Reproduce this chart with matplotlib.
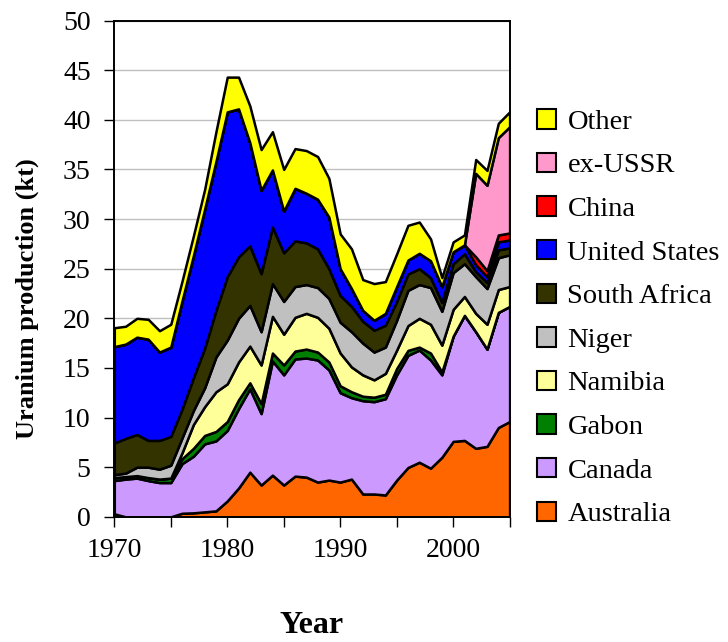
import matplotlib
matplotlib.use("Agg")
import matplotlib.pyplot as plt
from matplotlib.patches import Patch

plt.rcParams['font.family'] = ['Liberation Serif', 'DejaVu Serif']

years = list(range(1970, 2006))

# production per country (kt), 1970..2005
australia = [0.3, 0, 0, 0, 0, 0, 0.36, 0.4, 0.5, 0.6,
             1.6, 2.9, 4.5, 3.2, 4.2, 3.2, 4.1, 4.0, 3.5, 3.7,
             3.5, 3.8, 2.3, 2.3, 2.2, 3.7, 4.97, 5.5, 4.9, 6.0,
             7.6, 7.7, 6.9, 7.1, 9.0, 9.6]
canada = [3.35, 3.8, 3.9, 3.65, 3.45, 3.45, 5.0, 5.7, 6.85, 7.05,
          7.1, 8.0, 8.4, 7.2, 11.5, 11.1, 11.8, 12.0, 12.3, 11.1,
          9.0, 8.2, 9.4, 9.3, 9.7, 10.6, 11.3, 11.3, 10.9, 8.3,
          10.6, 12.6, 11.75, 9.8, 11.6, 11.6]
gabon = [0.3, 0.25, 0.25, 0.3, 0.35, 0.45, 0.5, 0.8, 0.85, 0.95,
         0.9, 0.9, 0.6, 1.0, 0.8, 1.0, 0.8, 0.9, 0.8, 0.8,
         0.7, 0.6, 0.45, 0.45, 0.45, 0.65, 0.5, 0.3, 0.7, 0.3,
         0, 0, 0, 0, 0, 0]
namibia = [0, 0, 0, 0, 0, 0, 0.6, 2.4, 2.9, 4.0,
           3.8, 3.8, 3.7, 3.9, 3.7, 3.1, 3.4, 3.6, 3.5, 3.4,
           3.3, 2.5, 2.15, 1.75, 2.1, 1.85, 2.5, 2.9, 2.9, 2.7,
           2.7, 1.9, 1.85, 2.5, 2.3, 2.0]
niger = [0.3, 0.35, 0.85, 1.05, 1.0, 1.3, 1.5, 1.4, 1.9, 3.5,
         4.4, 4.4, 4.1, 3.35, 3.3, 3.3, 3.1, 2.9, 3.0, 3.0,
         3.1, 3.55, 3.2, 2.8, 2.65, 3.0, 3.55, 3.4, 3.7, 3.4,
         3.7, 3.3, 3.7, 3.6, 3.2, 3.2]
south_africa = [3.2, 3.5, 3.3, 2.7, 2.9, 2.9, 2.9, 3.3, 4.0, 4.7,
                6.4, 6.2, 6.0, 5.85, 5.7, 4.9, 4.6, 4.2, 3.9, 3.0,
                2.7, 2.55, 2.2, 2.2, 2.2, 1.9, 1.65, 1.6, 1.0, 0.9,
                0.9, 1.0, 0.5, 0.6, 0.8, 0.7]
united_states = [9.7, 9.5, 9.8, 10.2, 8.9, 9.0, 10.9, 12.3, 14.0, 15.0,
                 16.6, 14.9, 10.4, 8.4, 5.75, 4.2, 5.3, 5.0, 5.0, 5.2,
                 2.7, 1.8, 1.1, 1.0, 1.2, 1.5, 1.4, 1.55, 1.7, 1.6,
                 1.2, 0.9, 0.7, 0.6, 0.8, 0.8]
china = [0, 0, 0, 0, 0, 0, 0, 0, 0, 0,
         0, 0, 0, 0, 0, 0, 0, 0, 0, 0,
         0, 0, 0, 0, 0, 0, 0, 0, 0, 0,
         0, 0, 0.8, 0.6, 0.7, 0.7]
ex_ussr = [0, 0, 0, 0, 0, 0, 0, 0, 0, 0,
           0, 0, 0, 0, 0, 0, 0, 0, 0, 0,
           0, 0, 0, 0, 0, 0, 0, 0, 0, 0,
           0, 0, 8.4, 8.6, 9.8, 10.7]
other = [1.9, 1.8, 1.9, 2.0, 2.15, 2.3, 2.0, 2.0, 2.0, 3.0,
         3.5, 3.2, 3.7, 4.1, 3.85, 4.2, 4.0, 4.3, 4.3, 3.9,
         3.5, 4.0, 3.1, 3.7, 3.2, 3.3, 3.5, 3.15, 2.2, 0.9,
         1.0, 1.0, 1.4, 1.5, 1.45, 1.5]

labels = ['Australia', 'Canada', 'Gabon', 'Namibia', 'Niger', 'South Africa',
          'United States', 'China', 'ex-USSR', 'Other']
colors = ['#FF6600', '#CC99FF', '#008000', '#FFFF99', '#C0C0C0', '#333300',
          '#0000FF', '#FF0000', '#FF99CC', '#FFFF00']

fig = plt.figure(figsize=(7.28, 6.42), dpi=100)
ax = fig.add_axes([0.157, 0.195, 0.543, 0.773])

ax.stackplot(years, australia, canada, gabon, namibia, niger, south_africa,
             united_states, china, ex_ussr, other,
             colors=colors, edgecolor='black', linewidth=1.8)

ax.set_xlim(1970, 2005)
ax.set_ylim(0, 50)
ax.set_yticks(range(0, 51, 5))
ax.set_xticks(range(1970, 2006, 5))
ax.set_xticklabels(['1970', '', '1980', '', '1990', '', '2000', ''])
ax.tick_params(axis='y', direction='out', length=7, width=1, pad=10, labelsize=20)
ax.tick_params(axis='x', direction='out', length=7, width=1, pad=8, labelsize=20)

ax.yaxis.grid(True, color='#C0C0C0', linewidth=1)
ax.set_axisbelow(True)
for s in ax.spines.values():
    s.set_linewidth(1.4)
    s.set_color('black')

ax.set_ylabel('Uranium production (kt)', fontsize=19, fontweight='bold')
ax.yaxis.set_label_coords(-0.19, 0.44)
ax.set_xlabel('Year', fontsize=23, fontweight='bold', labelpad=35)

handles = [Patch(facecolor=c, edgecolor='black', linewidth=1.5) for c in colors]
ax.legend(handles[::-1], labels[::-1], loc='upper left',
          bbox_to_anchor=(0.7376, 0.830), bbox_transform=fig.transFigure,
          frameon=False, fontsize=20.5, handlelength=0.67, handleheight=0.67,
          handletextpad=0.4, labelspacing=0.63, borderpad=0, borderaxespad=0)

fig.savefig('out.png', dpi=100)
